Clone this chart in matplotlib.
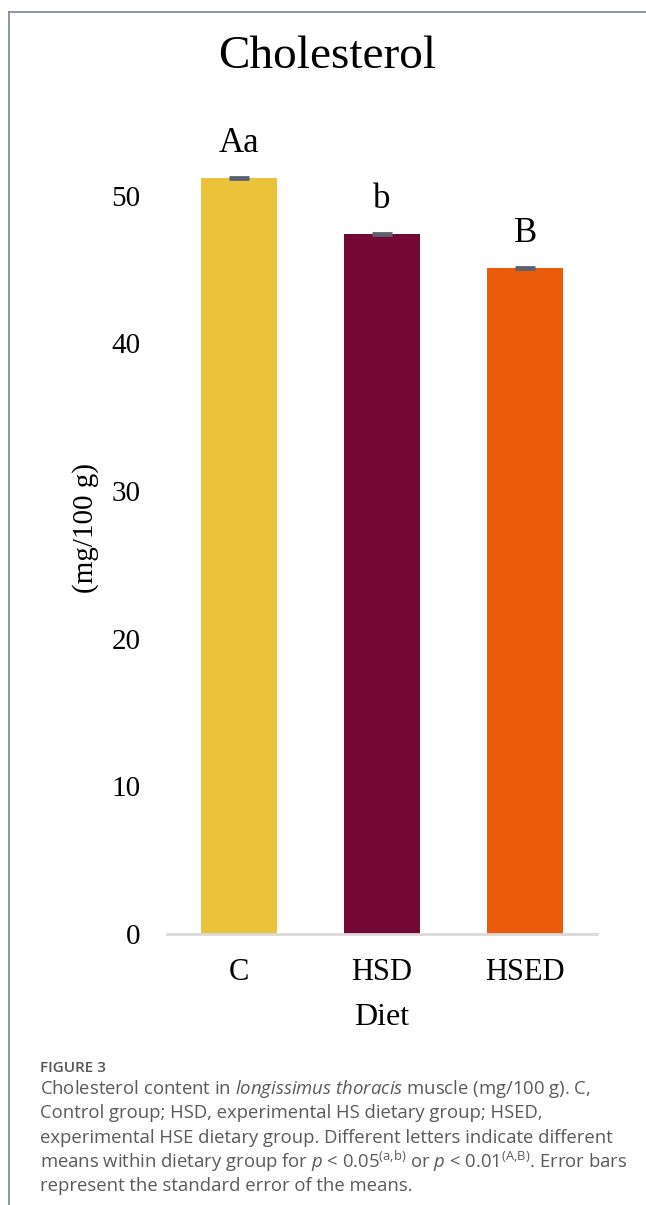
import matplotlib
matplotlib.use("Agg")
import matplotlib.pyplot as plt
from matplotlib.lines import Line2D

# Data
diets = ["C", "HSD", "HSED"]
cholesterol = [51.2, 47.4, 45.1]
std_err = [0.06, 0.06, 0.06]
letters = ["Aa", "b", "B"]
bar_colors = ["#EBC33B", "#720833", "#EA5B0C"]
y_ticks = [0, 10, 20, 30, 40, 50]

caption_lines = [
    r"Cholesterol content in $\mathit{longissimus\ thoracis}$ muscle (mg/100 g). C,",
    "Control group; HSD, experimental HS dietary group; HSED,",
    "experimental HSE dietary group. Different letters indicate different",
    r"means within dietary group for $\mathit{p}$ < 0.05$^{\mathrm{(a{,}b)}}$ or "
    r"$\mathit{p}$ < 0.01$^{\mathrm{(A{,}B)}}$. Error bars",
    "represent the standard error of the means.",
]

plt.rcParams["mathtext.fontset"] = "custom"
plt.rcParams["mathtext.rm"] = "Open Sans"
plt.rcParams["mathtext.it"] = "Open Sans:italic"

W, H = 646, 1205
fig = plt.figure(figsize=(W / 100, H / 100), dpi=100)

def fx(px):
    return px / W

def fy(py):
    return 1 - py / H

# axes placed so that 0 sits at y=934 px and 55 at y=122 px
ax = fig.add_axes([fx(167), fy(934), fx(597) - fx(167), fy(122) - fy(934)])
x = range(len(diets))
ax.bar(x, cholesterol, width=0.53, color=bar_colors)
ax.errorbar(x, cholesterol, yerr=std_err, fmt="none", ecolor="#5b6170",
            elinewidth=1.5, capsize=7, capthick=2)

for i, (v, lab) in enumerate(zip(cholesterol, letters)):
    ax.text(i, v + 1.2, lab, ha="center", va="bottom",
            family="Liberation Serif", fontsize=25, color="black")

ax.set_xlim(-0.5, 2.5)
ax.set_ylim(0, 55)
ax.set_yticks(y_ticks)
ax.set_xticks(list(x))
ax.set_xticklabels(diets)
for lbl in ax.get_yticklabels() + ax.get_xticklabels():
    lbl.set_family("Liberation Serif")
ax.tick_params(axis="y", length=0, pad=19, labelsize=21)
ax.tick_params(axis="x", length=0, pad=17, labelsize=22)

for s in ["top", "right", "left"]:
    ax.spines[s].set_visible(False)
ax.spines["bottom"].set_color("#d9d9d9")
ax.spines["bottom"].set_linewidth(2)

ax.set_ylabel("(mg/100 g)", family="Liberation Serif", fontsize=21, labelpad=9)
ax.set_xlabel("Diet", family="Liberation Serif", fontsize=23, labelpad=12)

fig.text(fx(327), fy(57), "Cholesterol", ha="center", va="center",
         family="Liberation Serif", fontsize=34)

# page frame lines
fig.add_artist(Line2D([fx(9), fx(9)], [fy(12), 0], color="#7a8296", lw=1.2))
fig.add_artist(Line2D([fx(9), 1], [fy(12), fy(12)], color="#7a8296", lw=1.2))

# caption
fig.text(fx(40), fy(1068), "FIGURE 3", ha="left", va="center",
         family="Open Sans", fontweight="semibold", fontsize=11, color="#555555")
for k, line in enumerate(caption_lines):
    fig.text(fx(40), fy(1089 + 24.3 * k), line, ha="left", va="center",
             family="Open Sans", fontsize=13.3, color="#5a5a5a")

fig.savefig("out.png", dpi=100)
